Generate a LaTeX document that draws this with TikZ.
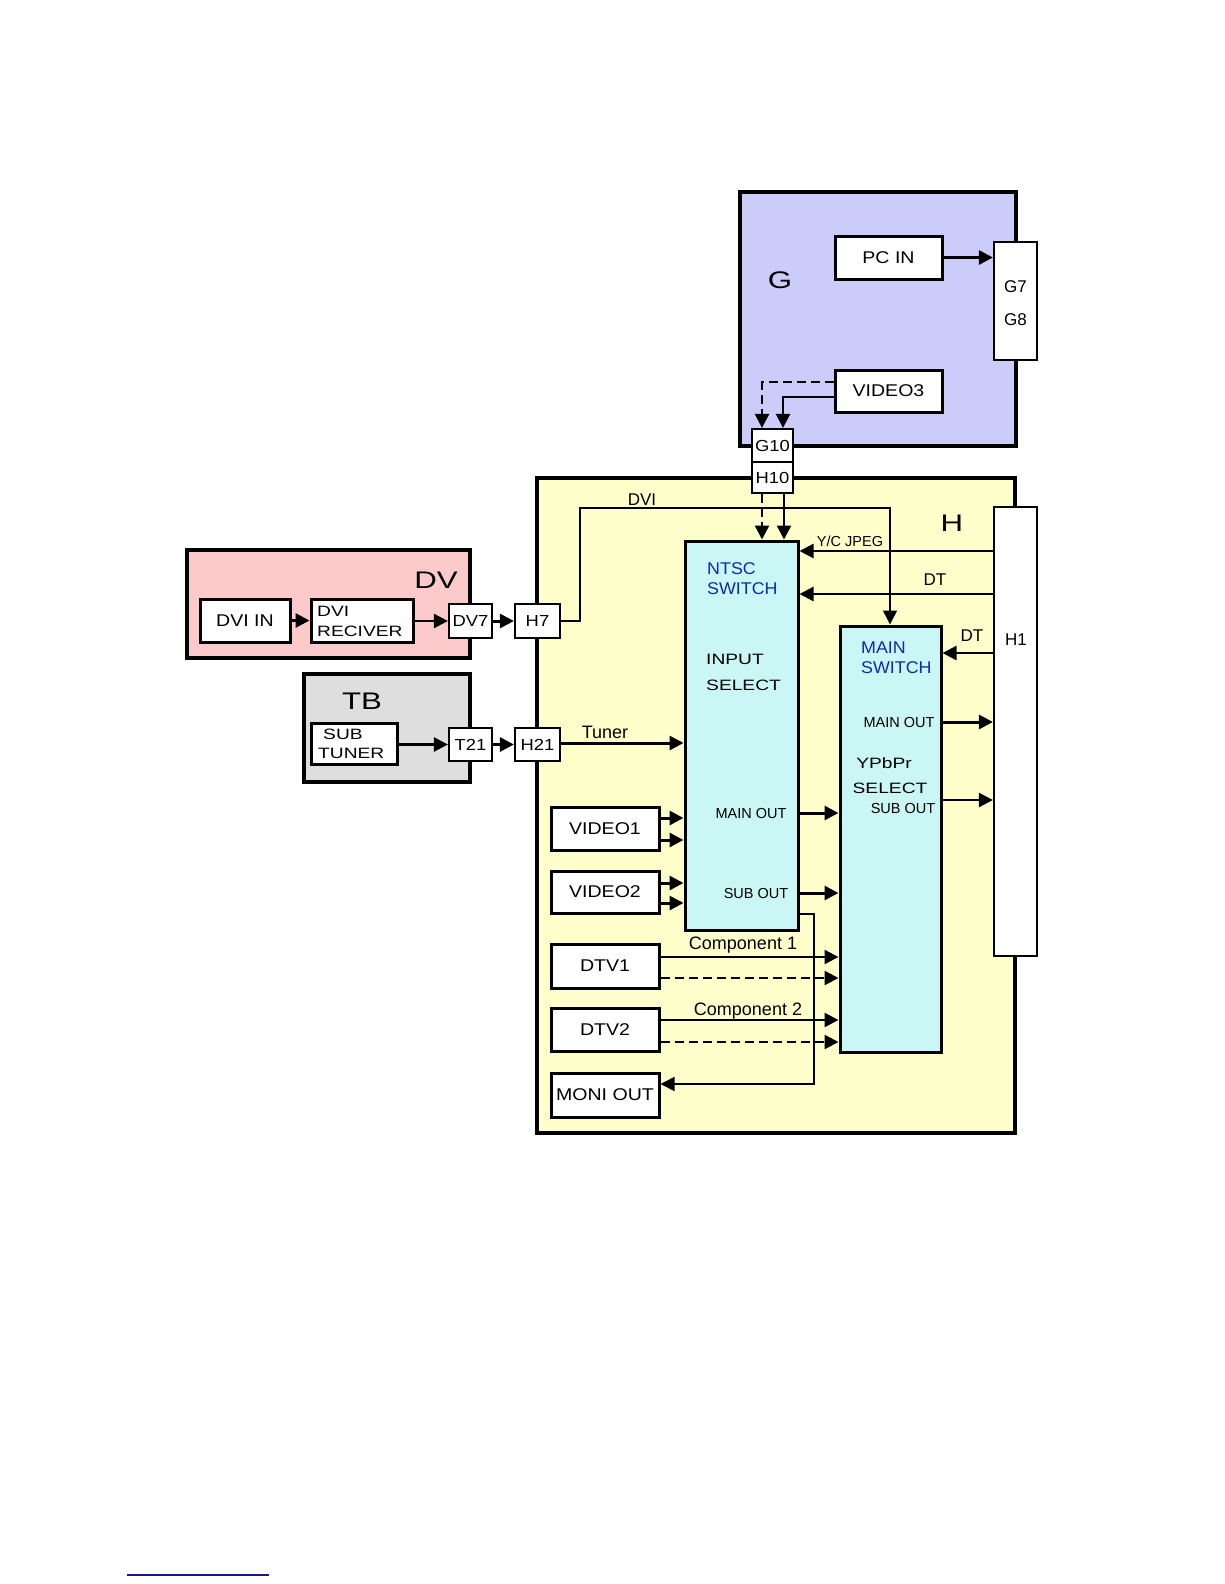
\documentclass[tikz,border=0pt]{standalone}
\usepackage{fontspec}
\setmainfont{Liberation Sans}
\newfontfamily\fS{Liberation Sans}[FakeStretch=1.15]
\newfontfamily\fW{Liberation Sans}[FakeStretch=1.28]
\newfontfamily\fB{Liberation Sans}[FakeStretch=1.3]
\newfontfamily\fN{Liberation Sans}[FakeStretch=1.05]
\usetikzlibrary{arrows.meta}
\definecolor{gfill}{RGB}{204,204,250}
\definecolor{dvfill}{RGB}{252,202,202}
\definecolor{tbfill}{RGB}{222,222,222}
\definecolor{hfill}{RGB}{255,255,204}
\definecolor{swfill}{RGB}{202,246,246}
\definecolor{swtext}{RGB}{20,40,170}
\definecolor{rulecol}{RGB}{25,25,130}
\tikzset{
  panel/.style={draw, line width=4pt, inner sep=0pt},
  blk/.style={draw, fill=white, line width=3pt, inner sep=0pt, align=center,
    font=\fS\fontsize{17}{20}\selectfont},
  conn/.style={draw, fill=white, line width=2.2pt, inner sep=0pt,
    font=\fS\fontsize{16}{18}\selectfont},
  sw/.style={draw, fill=swfill, line width=3pt, inner sep=0pt},
  tip/.style={-{Triangle[length=14pt,width=14pt]}},
  arr/.style={tip, line width=3pt},
  arrm/.style={tip, line width=2.4pt},
  arrt/.style={tip, line width=1.6pt},
  dsh/.style={dash pattern=on 9pt off 5pt},
  bigl/.style={inner sep=0pt, font=\fB\fontsize{24}{28}\selectfont},
  widel/.style={inner sep=0pt, align=left, font=\fW\fontsize{15}{26}\selectfont},
  bluel/.style={inner sep=0pt, align=left, text=swtext, font=\fN\fontsize{17}{20}\selectfont},
  norml/.style={inner sep=0pt, font=\fontsize{18}{20}\selectfont},
  midl/.style={inner sep=0pt, font=\fontsize{17}{20}\selectfont},
  smalll/.style={inner sep=0pt, font=\fontsize{14.5}{17}\selectfont},
}
\begin{document}
\begin{tikzpicture}[x=1pt,y=-1pt]
\useasboundingbox (0,0) rectangle (1224,1584);

% panels
\node[panel, fill=hfill, minimum width=478, minimum height=655] (H) at (776,805.5) {};
\node[panel, fill=gfill, minimum width=276, minimum height=254] (G) at (878,319) {};
\node[panel, fill=dvfill, minimum width=283, minimum height=108] (DV) at (328.5,604) {};
\node[panel, fill=tbfill, minimum width=166, minimum height=108] (TB) at (387,728) {};

\node[bigl] (Glab) at (780,280) {G};
\node[bigl] (Hlab) at (952,523) {H};
\node[bigl] (DVlab) at (436,580) {DV};
\node[bigl] (TBlab) at (362,701) {TB};

% G board
\node[blk, minimum width=107, minimum height=43] (pcin) at (888.5,257.5) {PC IN};
\node[blk, minimum width=107, minimum height=42] (video3) at (888.5,391) {VIDEO3};
\node[conn, minimum width=43, minimum height=118] (g78) at (1015.5,301) {};
\node[midl] (g7) at (1015.5,287) {G7};
\node[midl] (g8) at (1015.5,320) {G8};
\node[conn, minimum width=41, minimum height=33] (g10) at (772.5,445.5) {G10};
\node[conn, minimum width=41, minimum height=31] (h10) at (772.5,477.5) {H10};

% DV board
\node[blk, minimum width=90, minimum height=43] (dviin) at (245,620.5) {DVI IN};
\node[blk, minimum width=102, minimum height=43] (dvirec) at (362,620.5) {};
\node[widel, anchor=west, font=\fW\fontsize{15}{20}\selectfont] (dvirect) at (317,621) {DVI\\RECIVER};
\node[conn, minimum width=43, minimum height=34] (dv7) at (470.5,621) {DV7};
\node[conn, minimum width=45, minimum height=34] (h7) at (537.5,621) {H7};

% TB board
\node[blk, minimum width=86, minimum height=41] (subt) at (354,743.5) {};
\node[widel, anchor=west, font=\fW\fontsize{15}{19}\selectfont] (subtt) at (318,743.5) {\hspace{5pt}SUB\\TUNER};
\node[conn, minimum width=43, minimum height=33] (t21) at (470.5,744.5) {T21};
\node[conn, minimum width=45, minimum height=33] (h21) at (537.5,744.5) {H21};

% H board
\node[conn, minimum width=43, minimum height=449] (h1) at (1015.5,731.5) {};
\node[midl] (h1lab) at (1016,640) {H1};
\node[sw, minimum width=113, minimum height=389] (ntsc) at (741.5,735.5) {};
\node[sw, minimum width=101, minimum height=426] (main) at (890.5,839) {};

\node[bluel, anchor=west] (ntsct) at (707,579) {NTSC\\SWITCH};
\node[widel, anchor=west] (inpsel) at (706,672) {INPUT\\SELECT};
\node[smalll] (nmo) at (751,813) {MAIN OUT};
\node[smalll] (nso) at (756,893) {SUB OUT};

\node[bluel, anchor=west] (maint) at (861,658) {MAIN\\SWITCH};
\node[smalll] (mmo) at (899,723) {MAIN OUT};
\node[widel] (ypbpr) at (884,763) {YPbPr};
\node[widel] (msel) at (890,788) {SELECT};
\node[smalll] (mso) at (903,808) {SUB OUT};

\node[blk, minimum width=108, minimum height=43] (video1) at (605,828.5) {VIDEO1};
\node[blk, minimum width=108, minimum height=42] (video2) at (605,892) {VIDEO2};
\node[blk, minimum width=108, minimum height=44] (dtv1) at (605,966) {DTV1};
\node[blk, minimum width=108, minimum height=43] (dtv2) at (605,1029.5) {DTV2};
\node[blk, minimum width=108, minimum height=44] (moni) at (605,1095) {MONI OUT};

% labels on lines
\node[midl] (dvilab) at (642,500) {DVI};
\node[smalll] (ycl) at (850,541) {Y/C JPEG};
\node[midl] (dt1) at (935,580) {DT};
\node[midl] (dt2) at (972,636) {DT};
\node[norml] (tunl) at (605,732) {Tuner};
\node[norml] (c1l) at (743,945) {Component 1};
\node[norml] (c2l) at (748,1011) {Component 2};

% connectors: G board
\draw[arr] (pcin.east) -- (g78.west |- pcin.east);
\draw[arrm, dsh] (video3.west |- 0,382) -| (762,0 |- g10.north);
\draw[arrm] (video3.west |- 0,397) -| (783,0 |- g10.north);
\draw[arrm, dsh] (762,0 |- h10.south) -- (762,0 |- ntsc.north);
\draw[arrm] (784,0 |- h10.south) -- (784,0 |- ntsc.north);

% DV board
\draw[arr] (dviin.east) -- (dvirec.west);
\draw[arrm] (dvirec.east |- dv7.west) -- (dv7.west);
\draw[arr] (dv7.east) -- (h7.west);
\draw[arrt] (h7.east) -- (580,621) |- (890,508) -- (890,0 |- main.north);

% TB board
\draw[arrm] (subt.east |- t21.west) -- (t21.west);
\draw[arr] (t21.east) -- (h21.west);
\draw[arr] (h21.east |- 0,743) -- (ntsc.west |- 0,743);

% H1 to switches
\draw[arrm] (h1.west |- 0,551) -- (ntsc.east |- 0,551);
\draw[arrm] (h1.west |- 0,594) -- (ntsc.east |- 0,594);
\draw[arrm] (h1.west |- 0,653) -- (main.east |- 0,653);
\draw[arr] (main.east |- 0,722) -- (h1.west |- 0,722);
\draw[arrm] (main.east |- 0,800) -- (h1.west |- 0,800);

% NTSC to MAIN
\draw[arr] (ntsc.east |- 0,813) -- (main.west |- 0,813);
\draw[arr] (ntsc.east |- 0,893) -- (main.west |- 0,893);
\draw[arrt] (ntsc.east |- 0,914) -- (814,914) |- (moni.east |- 0,1084);

% video inputs
\draw[arr] (video1.east |- 0,818) -- (ntsc.west |- 0,818);
\draw[arr, dsh] (video1.east |- 0,840) -- (ntsc.west |- 0,840);
\draw[arr] (video2.east |- 0,883) -- (ntsc.west |- 0,883);
\draw[arr, dsh] (video2.east |- 0,903) -- (ntsc.west |- 0,903);
\draw[arrm] (dtv1.east |- 0,957) -- (main.west |- 0,957);
\draw[arrm, dsh] (dtv1.east |- 0,978) -- (main.west |- 0,978);
\draw[arrm] (dtv2.east |- 0,1020) -- (main.west |- 0,1020);
\draw[arrm, dsh] (dtv2.east |- 0,1042) -- (main.west |- 0,1042);

% footnote rule
\draw[rulecol, line width=1.5pt] (127,1575) -- (269,1575);
\end{tikzpicture}
\end{document}
